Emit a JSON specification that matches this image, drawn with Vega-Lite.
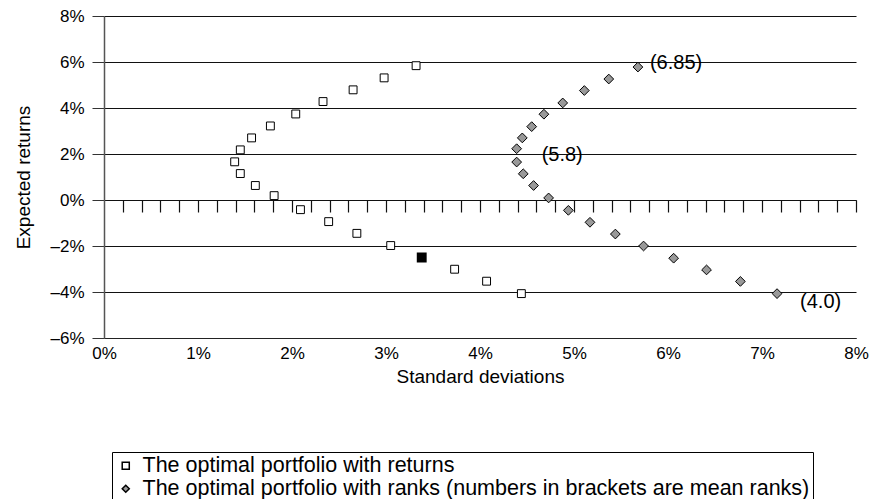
{
  "$schema": "https://vega.github.io/schema/vega-lite/v6.json",
  "width": 752,
  "height": 322,
  "autosize": {"type": "none"},
  "padding": {"left": 104, "top": 16, "right": 16, "bottom": 161},
  "background": "white",
  "config": {
    "view": {"stroke": null},
    "font": "Liberation Sans",
    "axis": {"labelFont": "Liberation Sans", "titleFont": "Liberation Sans", "labelColor": "black", "titleColor": "black", "titleFontWeight": "normal", "labelFlush": false}
  },
  "data": {
    "values": [
      {"s": "The optimal portfolio with returns", "sd": 3.32, "er": 5.84},
      {"s": "The optimal portfolio with returns", "sd": 2.98, "er": 5.31},
      {"s": "The optimal portfolio with returns", "sd": 2.65, "er": 4.79},
      {"s": "The optimal portfolio with returns", "sd": 2.33, "er": 4.28},
      {"s": "The optimal portfolio with returns", "sd": 2.04, "er": 3.74},
      {"s": "The optimal portfolio with returns", "sd": 1.77, "er": 3.22},
      {"s": "The optimal portfolio with returns", "sd": 1.57, "er": 2.70},
      {"s": "The optimal portfolio with returns", "sd": 1.45, "er": 2.18},
      {"s": "The optimal portfolio with returns", "sd": 1.39, "er": 1.66},
      {"s": "The optimal portfolio with returns", "sd": 1.45, "er": 1.15},
      {"s": "The optimal portfolio with returns", "sd": 1.61, "er": 0.63},
      {"s": "The optimal portfolio with returns", "sd": 1.81, "er": 0.19},
      {"s": "The optimal portfolio with returns", "sd": 2.09, "er": -0.42},
      {"s": "The optimal portfolio with returns", "sd": 2.39, "er": -0.94},
      {"s": "The optimal portfolio with returns", "sd": 2.69, "er": -1.45},
      {"s": "The optimal portfolio with returns", "sd": 3.05, "er": -1.98},
      {"s": "The optimal portfolio with returns", "sd": 3.73, "er": -3.01},
      {"s": "The optimal portfolio with returns", "sd": 4.07, "er": -3.53},
      {"s": "The optimal portfolio with returns", "sd": 4.44, "er": -4.07},
      {"s": "Equal", "sd": 3.38, "er": -2.50},
      {"s": "The optimal portfolio with ranks (numbers in brackets are mean ranks)", "sd": 5.68, "er": 5.78, "label": "(6.85)"},
      {"s": "The optimal portfolio with ranks (numbers in brackets are mean ranks)", "sd": 5.37, "er": 5.26},
      {"s": "The optimal portfolio with ranks (numbers in brackets are mean ranks)", "sd": 5.11, "er": 4.76},
      {"s": "The optimal portfolio with ranks (numbers in brackets are mean ranks)", "sd": 4.88, "er": 4.22},
      {"s": "The optimal portfolio with ranks (numbers in brackets are mean ranks)", "sd": 4.68, "er": 3.73},
      {"s": "The optimal portfolio with ranks (numbers in brackets are mean ranks)", "sd": 4.55, "er": 3.19},
      {"s": "The optimal portfolio with ranks (numbers in brackets are mean ranks)", "sd": 4.45, "er": 2.70},
      {"s": "The optimal portfolio with ranks (numbers in brackets are mean ranks)", "sd": 4.39, "er": 2.23, "label": "(5.8)"},
      {"s": "The optimal portfolio with ranks (numbers in brackets are mean ranks)", "sd": 4.39, "er": 1.65},
      {"s": "The optimal portfolio with ranks (numbers in brackets are mean ranks)", "sd": 4.46, "er": 1.14},
      {"s": "The optimal portfolio with ranks (numbers in brackets are mean ranks)", "sd": 4.57, "er": 0.63},
      {"s": "The optimal portfolio with ranks (numbers in brackets are mean ranks)", "sd": 4.73, "er": 0.09},
      {"s": "The optimal portfolio with ranks (numbers in brackets are mean ranks)", "sd": 4.94, "er": -0.45},
      {"s": "The optimal portfolio with ranks (numbers in brackets are mean ranks)", "sd": 5.17, "er": -0.97},
      {"s": "The optimal portfolio with ranks (numbers in brackets are mean ranks)", "sd": 5.44, "er": -1.48},
      {"s": "The optimal portfolio with ranks (numbers in brackets are mean ranks)", "sd": 5.74, "er": -2.00},
      {"s": "The optimal portfolio with ranks (numbers in brackets are mean ranks)", "sd": 6.06, "er": -2.53},
      {"s": "The optimal portfolio with ranks (numbers in brackets are mean ranks)", "sd": 6.41, "er": -3.04},
      {"s": "The optimal portfolio with ranks (numbers in brackets are mean ranks)", "sd": 6.77, "er": -3.54},
      {"s": "The optimal portfolio with ranks (numbers in brackets are mean ranks)", "sd": 7.16, "er": -4.07, "label": "(4.0)"}
    ]
  },
  "resolve": {"axis": {"x": "independent", "y": "independent"}},
  "layer": [
    {
      "transform": [{"filter": "datum.s !== 'Equal'"}],
      "mark": {"type": "point", "filled": true, "stroke": "black", "strokeWidth": 1, "opacity": 1},
      "encoding": {
        "x": {
          "field": "sd", "type": "quantitative",
          "scale": {"domain": [0, 8], "nice": false, "zero": false},
          "axis": {
            "title": "Standard deviations", "titleFontSize": 19, "titlePadding": 6,
            "values": [0, 1, 2, 3, 4, 5, 6, 7, 8],
            "labelExpr": "datum.value + '%'", "labelFontSize": 17, "labelPadding": 7,
            "ticks": false, "grid": false,
            "domainColor": "#222", "domainWidth": 1.2
          }
        },
        "y": {
          "field": "er", "type": "quantitative",
          "scale": {"domain": [-6, 8], "nice": false, "zero": false},
          "axis": {
            "title": "Expected returns", "titleFontSize": 19, "titlePadding": 16,
            "values": [-6, -4, -2, 0, 2, 4, 6, 8],
            "labelExpr": "(datum.value < 0 ? '–' + (-datum.value) : datum.value) + '%'",
            "labelFontSize": 17, "labelPadding": 8,
            "tickSize": 12, "tickColor": "#333", "domainColor": "#555", "domainWidth": 1.5,
            "grid": true, "gridColor": "#111", "gridWidth": 1.2, "gridOpacity": 1
          }
        },
        "size": {
          "condition": {"test": "datum.s === 'The optimal portfolio with ranks (numbers in brackets are mean ranks)'", "value": 95},
          "value": 62
        },
        "shape": {
          "field": "s", "type": "nominal",
          "scale": {"domain": ["The optimal portfolio with returns", "The optimal portfolio with ranks (numbers in brackets are mean ranks)"], "range": ["square", "diamond"]},
          "legend": {
            "title": null, "orient": "none", "legendX": 8, "legendY": 436,
            "direction": "vertical", "strokeColor": "black", "padding": 3,
            "labelFontSize": 21.5, "labelFont": "Liberation Sans", "labelLimit": 1000, "labelColor": "black",
            "symbolSize": 50, "rowPadding": 0, "labelOffset": 6,
            "encode": {"symbols": {"update": {"stroke": {"value": "black"}, "strokeWidth": {"value": 1}}}}
          }
        },
        "fill": {
          "field": "s", "type": "nominal",
          "scale": {"domain": ["The optimal portfolio with returns", "The optimal portfolio with ranks (numbers in brackets are mean ranks)"], "range": ["white", "#999999"]},
          "legend": {
            "title": null, "orient": "none", "legendX": 8, "legendY": 436,
            "direction": "vertical", "strokeColor": "black", "padding": 3,
            "labelFontSize": 21.5, "labelFont": "Liberation Sans", "labelLimit": 1000, "labelColor": "black",
            "symbolSize": 50, "rowPadding": 0, "labelOffset": 6,
            "encode": {"symbols": {"update": {"stroke": {"value": "black"}, "strokeWidth": {"value": 1}}}}
          }
        }
      }
    },
    {
      "transform": [{"filter": "datum.s === 'Equal'"}],
      "mark": {"type": "point", "shape": "square", "filled": true, "fill": "black", "stroke": "black", "size": 62, "opacity": 1},
      "encoding": {
        "x": {"field": "sd", "type": "quantitative", "axis": null},
        "y": {"field": "er", "type": "quantitative", "axis": null}
      }
    },
    {
      "transform": [{"filter": "datum.label === '(6.85)'"}],
      "mark": {"type": "text", "align": "left", "baseline": "middle", "dx": 12, "dy": -4, "fontSize": 20, "font": "Liberation Sans", "color": "black"},
      "encoding": {
        "x": {"field": "sd", "type": "quantitative", "axis": null},
        "y": {"field": "er", "type": "quantitative", "axis": null},
        "text": {"field": "label"}
      }
    },
    {
      "transform": [{"filter": "datum.label === '(5.8)'"}],
      "mark": {"type": "text", "align": "left", "baseline": "middle", "dx": 25, "dy": 6, "fontSize": 20, "font": "Liberation Sans", "color": "black"},
      "encoding": {
        "x": {"field": "sd", "type": "quantitative", "axis": null},
        "y": {"field": "er", "type": "quantitative", "axis": null},
        "text": {"field": "label"}
      }
    },
    {
      "transform": [{"filter": "datum.label === '(4.0)'"}],
      "mark": {"type": "text", "align": "left", "baseline": "middle", "dx": 23, "dy": 8, "fontSize": 20, "font": "Liberation Sans", "color": "black"},
      "encoding": {
        "x": {
          "field": "sd", "type": "quantitative",
          "axis": {
            "orient": "bottom", "offset": -138, "title": null, "labels": false, "grid": false,
            "values": [0.2, 0.4, 0.6, 0.8, 1, 1.2, 1.4, 1.6, 1.8, 2, 2.2, 2.4, 2.6, 2.8, 3, 3.2, 3.4, 3.6, 3.8, 4, 4.2, 4.4, 4.6, 4.8, 5, 5.2, 5.4, 5.6, 5.8, 6, 6.2, 6.4, 6.6, 6.8, 7, 7.2, 7.4, 7.6, 7.8, 8],
            "ticks": true, "tickSize": 12, "tickColor": "#111", "tickWidth": 1.2, "domain": true, "domainColor": "#111", "domainWidth": 1.2
          }
        },
        "y": {"field": "er", "type": "quantitative", "axis": null},
        "text": {"field": "label"}
      }
    }
  ]
}
